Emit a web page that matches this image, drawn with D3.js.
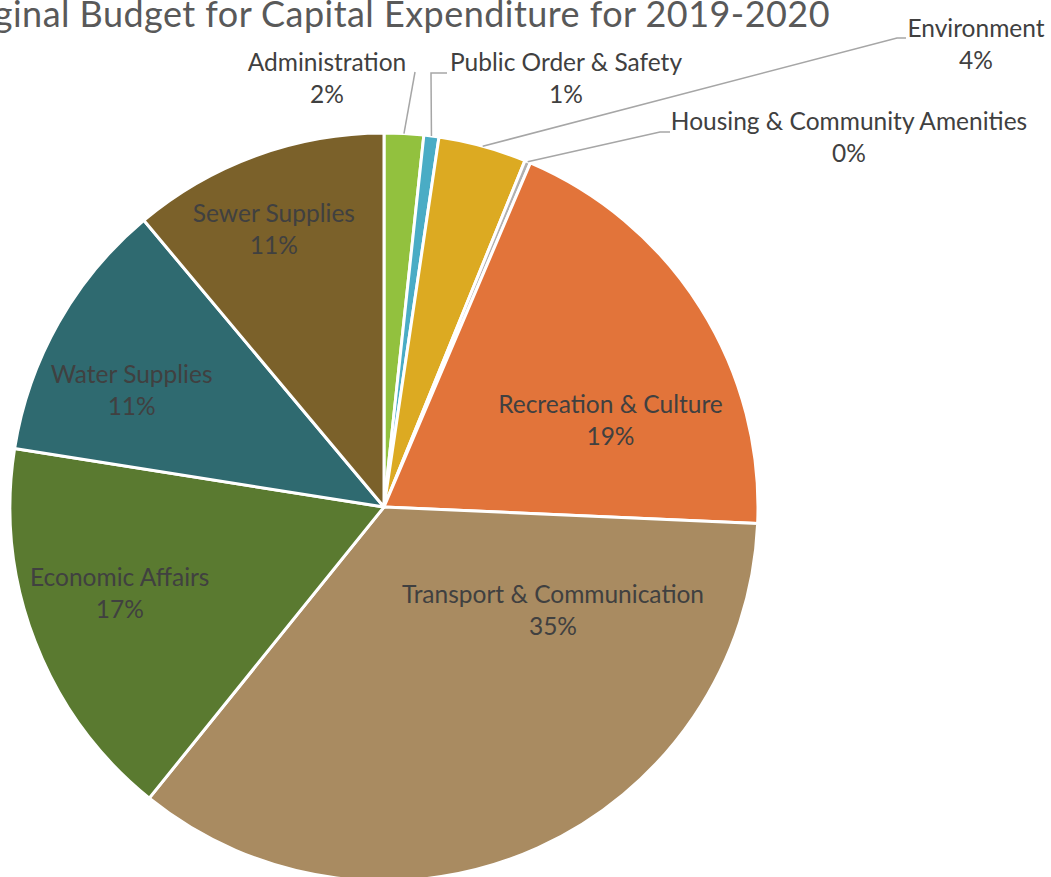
<!DOCTYPE html>
<html>
<head>
<meta charset="utf-8">
<script src="https://cdn.jsdelivr.net/npm/d3@7"></script>
<style>
  html, body { margin: 0; padding: 0; background: #ffffff; overflow: hidden; }
  svg { display: block; }
  text { font-family: Lato, "Open Sans", sans-serif; }
</style>
</head>
<body>
<svg id="chart" width="1051" height="877"></svg>
<script>
// Capital expenditure budget shares (percent of total), clockwise from 12 o'clock
const categories = [
  "Administration",
  "Public Order & Safety",
  "Environment",
  "Housing & Community Amenities",
  "Recreation & Culture",
  "Transport & Communication",
  "Economic Affairs",
  "Water Supplies",
  "Sewer Supplies"
];
const shares = [1.7, 0.65, 3.8, 0.25, 19.3, 35.1, 16.7, 11.4, 11.1];
const colors = ["#92c13e", "#4aacc5", "#dcaa22", "#b0b0b0", "#e2743a", "#a98b61", "#5a7a30", "#2f6a70", "#7b612a"];
const title = "Original Budget for Capital Expenditure for 2019-2020";

const svg = d3.select("#chart");
const cx = 384, cy = 507, R = 374;

// title (wider than the frame on the left, as in the exported chart)
svg.append("text")
  .attr("x", 830).attr("y", 27)
  .attr("text-anchor", "end")
  .attr("fill", "#595959")
  .attr("font-size", 36)
  .attr("letter-spacing", 0.45)
  .text(title);

const data = categories.map((c, i) => ({ name: c, value: shares[i], color: colors[i] }));
const pie = d3.pie().sort(null).value(d => d.value);
const arcs = pie(data);
const total = d3.sum(shares);
const arc = d3.arc().innerRadius(0).outerRadius(R);

const g = svg.append("g").attr("transform", `translate(${cx},${cy})`);

g.selectAll("path.slice")
  .data(arcs)
  .join("path")
  .attr("class", "slice")
  .attr("d", arc)
  .attr("fill", d => d.data.color)
  .attr("stroke", "#ffffff")
  .attr("stroke-width", 3)
  .attr("stroke-linejoin", "round");

const pct = d => Math.round(d.data.value / total * 100) + "%";
const labelSize = 24.5;
const lineGap = 32;

// point on the outer rim at the middle of a slice
const rimPoint = d => {
  const a = (d.startAngle + d.endAngle) / 2;
  return [R * Math.sin(a), -R * Math.cos(a)];
};
const centroidAt = (d, f) => {
  const a = (d.startAngle + d.endAngle) / 2;
  return [f * R * Math.sin(a), -f * R * Math.cos(a)];
};

// label placement: inside labels sit near the slice centroid with a nudge,
// outside labels hang off a leader line
const layout = {
  "Administration":               { outside: true, at: [327 - cx, 78 - cy], bend: [[415 - cx, 72 - cy]] },
  "Public Order & Safety":        { outside: true, at: [566 - cx, 78 - cy], bend: [[431 - cx, 73 - cy], [447 - cx, 73 - cy]] },
  "Environment":                  { outside: true, at: [976 - cx, 44 - cy], bend: [[897 - cx, 38 - cy], [906 - cx, 38 - cy]] },
  "Housing & Community Amenities":{ outside: true, at: [849 - cx, 137 - cy], bend: [[660 - cx, 132 - cy], [670 - cx, 132 - cy]] },
  "Recreation & Culture":         { nudge: [-14, 65] },
  "Transport & Communication":    { nudge: [52, -156] },
  "Economic Affairs":             { nudge: [1, -16] },
  "Water Supplies":               { nudge: [-5, 24] },
  "Sewer Supplies":               { nudge: [-13, -10] }
};

// leader lines
arcs.forEach(d => {
  const L = layout[d.data.name];
  if (!L.outside) return;
  const pts = [rimPoint(d), ...L.bend];
  g.append("path")
    .attr("d", d3.line()(pts))
    .attr("fill", "none")
    .attr("stroke", "#a6a6a6")
    .attr("stroke-width", 1.5);
});

// labels
arcs.forEach(d => {
  const L = layout[d.data.name];
  let p;
  if (L.outside) {
    p = L.at;
  } else {
    const c = centroidAt(d, 0.76);
    p = [c[0] + L.nudge[0], c[1] + L.nudge[1]];
  }
  const t = g.append("text")
    .attr("text-anchor", "middle")
    .attr("fill", "#404040")
    .attr("font-size", labelSize);
  t.append("tspan").attr("x", p[0]).attr("y", p[1] - lineGap / 2 + 8.5).text(d.data.name);
  t.append("tspan").attr("x", p[0]).attr("y", p[1] + lineGap / 2 + 8.5).text(pct(d));
});
</script>
</body>
</html>
